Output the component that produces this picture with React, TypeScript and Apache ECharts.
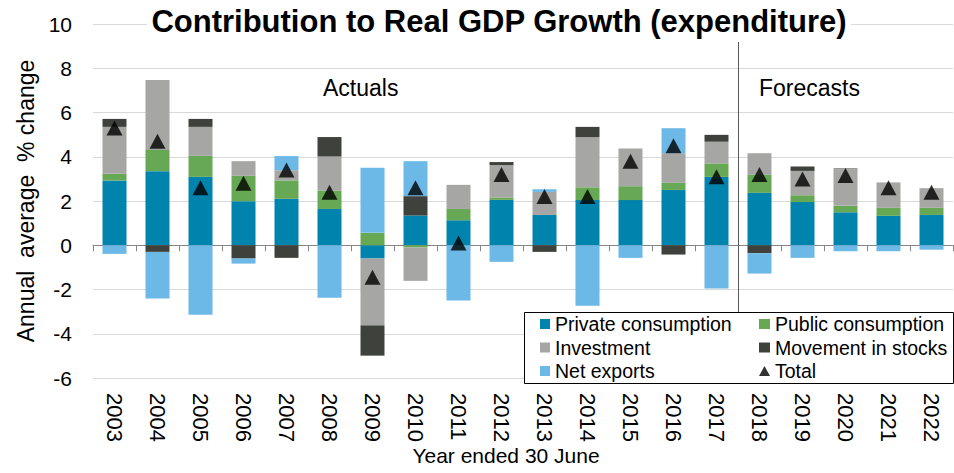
import React, { useEffect, useRef } from "react";
import * as echarts from "echarts";

const years = ["2003","2004","2005","2006","2007","2008","2009","2010","2011","2012","2013","2014","2015","2016","2017","2018","2019","2020","2021","2022"];
const privateCons = [2.93,3.35,3.09,1.99,2.10,1.64,-0.60,1.34,1.13,2.05,1.37,2.04,2.04,2.50,3.09,2.37,1.95,1.49,1.33,1.37];
const publicCons = [0.30,0.96,0.95,1.15,0.83,0.82,0.56,-0.10,0.51,0.11,0.00,0.58,0.63,0.32,0.61,0.81,0.31,0.29,0.36,0.32];
const investment = [2.12,3.16,1.31,0.66,0.46,1.55,-3.02,-1.51,1.09,1.46,1.04,2.27,1.70,1.34,0.98,0.98,1.10,1.66,1.15,0.89];
const stocks = [0.36,-0.30,0.36,-0.60,-0.57,0.88,-1.37,0.88,0.00,0.14,-0.30,0.46,0.00,-0.42,0.31,-0.36,0.20,0.03,0.00,0.00];
const netExports = [-0.39,-2.11,-3.14,-0.23,0.64,-2.37,2.94,1.58,-2.50,-0.75,0.12,-2.73,-0.57,1.13,-1.96,-0.92,-0.57,-0.27,-0.27,-0.20];
const total = [5.3,4.7,2.6,2.8,3.4,2.4,-1.45,2.6,0.1,3.2,2.2,2.2,3.8,4.5,3.1,3.2,3.0,3.15,2.6,2.4];
const forecastStartIndex = 15;

const FONT = "'Liberation Sans', Arial, sans-serif";
const COLORS = {
  private: "#0083ad",
  public: "#66a853",
  investment: "#a6a6a4",
  stocks: "#3f423c",
  net: "#6cb8e6",
  total: "#000000",
};

export default function App() {
  const ref = useRef<HTMLDivElement>(null);
  useEffect(() => {
    if (!ref.current) return;
    const chart = echarts.init(ref.current, null, { renderer: "svg" });
    const barBase = { type: "bar", stack: "gdp", barWidth: 24, xAxisIndex: 0 };
    const legendText = { fontSize: 19.5, lineHeight: 20, color: "#000", fontFamily: FONT };
    const option: any = {
      animation: false,
      backgroundColor: "#fff",
      textStyle: { fontFamily: FONT },
      grid: { left: 93, right: 1, top: 24, height: 354 },
      xAxis: [
        {
          type: "category",
          data: years,
          position: "bottom",
          axisLine: { onZero: true, lineStyle: { color: "#868686", width: 1 } },
          axisTick: { show: true, length: 6, lineStyle: { color: "#868686" } },
          axisLabel: { show: false },
          splitLine: { show: false },
        },
        {
          type: "category",
          data: years,
          position: "bottom",
          axisLine: { show: false, onZero: false },
          axisTick: { show: false },
          axisLabel: { show: true, rotate: -90, margin: 15, fontSize: 22, color: "#000", fontFamily: FONT },
          splitLine: { show: false },
        },
      ],
      yAxis: {
        type: "value",
        min: -6,
        max: 10,
        interval: 2,
        axisLine: { show: false },
        axisTick: { show: false },
        axisLabel: { fontSize: 21, color: "#000", margin: 21, fontFamily: FONT },
        splitLine: { lineStyle: { color: "#d9d9d9", width: 1 } },
        name: "Annual\u00a0 average\u00a0 % change",
        nameLocation: "middle",
        nameRotate: 90,
        nameGap: 51,
        nameTextStyle: { fontSize: 23, color: "#000", fontFamily: FONT },
      },
      legend: [
        {
          data: ["Private consumption", "Investment", "Net exports"],
          orient: "vertical",
          left: 540,
          top: 314,
          padding: 0,
          itemWidth: 10,
          itemHeight: 10,
          itemGap: 3.5,
          icon: "rect",
          z: 200,
          textStyle: legendText,
        },
        {
          data: ["Public consumption", "Movement in stocks", { name: "Total", icon: "triangle" }],
          orient: "vertical",
          left: 759,
          top: 314,
          padding: 0,
          itemWidth: 11,
          itemHeight: 10,
          itemGap: 3.5,
          icon: "rect",
          z: 200,
          textStyle: legendText,
        },
      ],
      series: [
        { ...barBase, name: "Private consumption", data: privateCons, itemStyle: { color: COLORS.private } },
        { ...barBase, name: "Public consumption", data: publicCons, itemStyle: { color: COLORS.public } },
        { ...barBase, name: "Investment", data: investment, itemStyle: { color: COLORS.investment } },
        { ...barBase, name: "Movement in stocks", data: stocks, itemStyle: { color: COLORS.stocks } },
        { ...barBase, name: "Net exports", data: netExports, itemStyle: { color: COLORS.net } },
        {
          type: "scatter",
          name: "Total",
          data: total,
          symbol: "triangle",
          symbolSize: [16, 15],
          itemStyle: { color: COLORS.total },
          z: 10,
        },
      ],
    };
    chart.setOption(option);

    const xa = chart.convertToPixel({ xAxisIndex: 0 }, years[forecastStartIndex - 1]) as number;
    const xb = chart.convertToPixel({ xAxisIndex: 0 }, years[forecastStartIndex]) as number;
    const divX = Math.round((xa + xb) / 2) + 0.5;

    chart.setOption({
      graphic: [
        {
          type: "text",
          x: 499,
          y: 21,
          z: 50,
          style: {
            text: "Contribution to Real GDP Growth (expenditure)",
            font: `bold 31px ${FONT}`,
            fill: "#000",
            align: "center",
            verticalAlign: "middle",
            backgroundColor: "#fff",
            padding: [0, 4],
          },
        },
        {
          type: "line",
          z: 50,
          shape: { x1: divX, y1: 42, x2: divX, y2: 312 },
          style: { stroke: "#595959", lineWidth: 1 },
        },
        {
          type: "text",
          x: 323,
          y: 88,
          z: 50,
          style: { text: "Actuals", font: `23px ${FONT}`, fill: "#000", align: "left", verticalAlign: "middle" },
        },
        {
          type: "text",
          x: 759,
          y: 88,
          z: 50,
          style: { text: "Forecasts", font: `23px ${FONT}`, fill: "#000", align: "left", verticalAlign: "middle" },
        },
        {
          type: "rect",
          z: 100,
          shape: { x: 524.5, y: 312.5, width: 429, height: 71 },
          style: { fill: "#fff", stroke: "#000", lineWidth: 1 },
        },
        {
          type: "text",
          x: 506,
          y: 455,
          z: 50,
          style: { text: "Year ended 30 June", font: `21px ${FONT}`, fill: "#000", align: "center", verticalAlign: "middle" },
        },
      ],
    });

    return () => chart.dispose();
  }, []);
  return (
    <div
      ref={ref}
      style={{ position: "fixed", left: 0, top: 0, width: 954, height: 473, background: "#fff" }}
    />
  );
}
